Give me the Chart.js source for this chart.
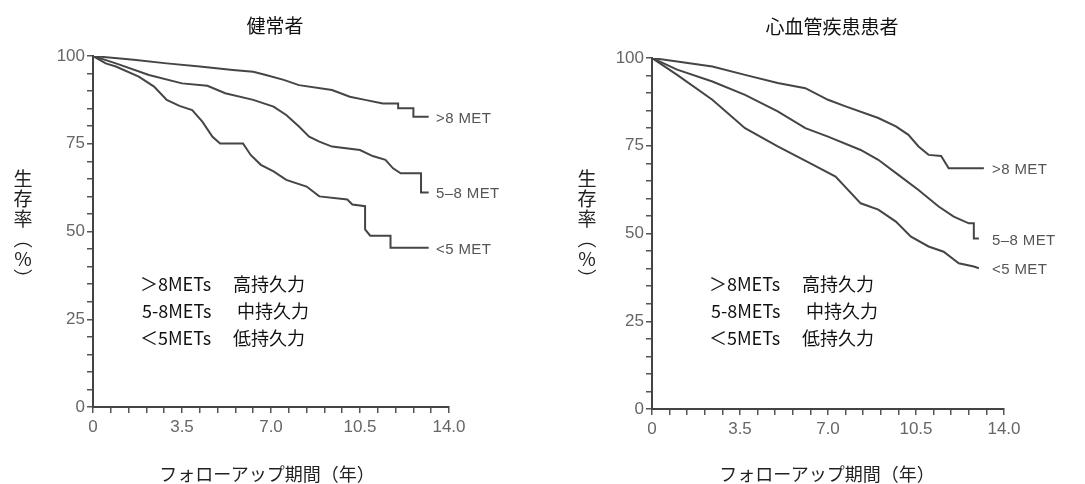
<!DOCTYPE html>
<html>
<head>
<meta charset="utf-8">
<script src="https://cdn.jsdelivr.net/npm/chart.js@4"></script>
<style>
  body { margin: 0; background: #fff; }
  #wrap { position: relative; width: 1085px; height: 484px; overflow: hidden; font-family: "Noto Sans CJK JP", sans-serif; }
  .cv { position: absolute; top: 0; width: 540px; height: 484px; }
  .txt { position: absolute; white-space: nowrap; line-height: 1; }
  .title { font-size: 19px; color: #111; transform: translate(-50%, -50%); }
  .ylab { font-size: 19px; color: #222; text-align: center; width: 24px; transform: translateX(-50%); }
  .ylab span { display: block; height: 20px; line-height: 20px; }
  .xlab { font-size: 18px; color: #222; transform: translate(-50%, -50%); }
  .note { font-size: 18px; color: #111; transform: translateY(-50%); }
  .end { font-family: "Liberation Sans", Arial, sans-serif; font-size: 15px; letter-spacing: 0.4px; color: #555; transform: translateY(-50%); }
</style>
</head>
<body>
<div id="wrap">
  <canvas id="left" class="cv" width="540" height="484" style="left:0"></canvas>
  <canvas id="right" class="cv" width="540" height="484" style="left:545px"></canvas>

  <div class="txt title" style="left:275px;top:24px">健常者</div>
  <div class="txt title" style="left:832px;top:25px">心血管疾患患者</div>

  <div class="txt ylab" style="left:23px;top:168px"><span>生</span><span>存</span><span>率</span><span>︵</span><span>%</span><span>︶</span></div>
  <div class="txt ylab" style="left:587px;top:168px"><span>生</span><span>存</span><span>率</span><span>︵</span><span>%</span><span>︶</span></div>

  <div class="txt xlab" style="left:267px;top:473px">フォローアップ期間（年）</div>
  <div class="txt xlab" style="left:827px;top:473px">フォローアップ期間（年）</div>

  <div class="txt note" style="left:140px;top:283px">＞8METs</div>
  <div class="txt note" style="left:233px;top:283px">高持久力</div>
  <div class="txt note" style="left:142px;top:310px">5-8METs</div>
  <div class="txt note" style="left:237px;top:310px">中持久力</div>
  <div class="txt note" style="left:140px;top:337px">＜5METs</div>
  <div class="txt note" style="left:233px;top:337px">低持久力</div>

  <div class="txt note" style="left:709px;top:283px">＞8METs</div>
  <div class="txt note" style="left:802px;top:283px">高持久力</div>
  <div class="txt note" style="left:711px;top:310px">5-8METs</div>
  <div class="txt note" style="left:806px;top:310px">中持久力</div>
  <div class="txt note" style="left:709px;top:337px">＜5METs</div>
  <div class="txt note" style="left:802px;top:337px">低持久力</div>

  <div class="txt end" style="left:436px;top:117px">&gt;8 MET</div>
  <div class="txt end" style="left:436px;top:192px">5–8 MET</div>
  <div class="txt end" style="left:436px;top:248px">&lt;5 MET</div>

  <div class="txt end" style="left:992px;top:168px">&gt;8 MET</div>
  <div class="txt end" style="left:992px;top:239px">5–8 MET</div>
  <div class="txt end" style="left:992px;top:268px">&lt;5 MET</div>
</div>

<script>
// tick labels
const xTickLabels = ["0", "3.5", "7.0", "10.5", "14.0"];
const yTickLabels = ["0", "25", "50", "75", "100"];

// 健常者 (healthy)
const healthyHighYears = [0, 1.6, 2.9, 4.2, 5.5, 6.3, 6.8, 7.5, 8.1, 9.4, 10.1, 10.7, 11.4, 12.0, 12.0, 12.6, 12.6, 13.2];
const healthyHighSurv  = [100, 98.9, 97.9, 97.0, 96.0, 95.5, 94.6, 93.2, 91.7, 90.3, 88.4, 87.5, 86.5, 86.5, 85.1, 85.1, 82.7, 82.7];

const healthyMidYears = [0, 0.9, 2.2, 3.5, 4.5, 5.2, 6.3, 7.1, 7.6, 8.1, 8.5, 8.9, 9.4, 10.5, 11.0, 11.5, 11.8, 12.1, 12.9, 12.9, 13.2];
const healthyMidSurv  = [100, 97.9, 94.6, 92.2, 91.5, 89.4, 87.5, 85.6, 83.2, 79.9, 77.0, 75.6, 74.2, 73.2, 71.5, 70.4, 68.0, 66.6, 66.6, 61.1, 61.1];

const healthyLowYears = [0, 0.5, 0.9, 1.8, 2.4, 2.9, 3.4, 3.9, 4.3, 4.7, 5.0, 5.9, 6.2, 6.6, 7.1, 7.6, 8.4, 8.9, 10.0, 10.2, 10.7, 10.7, 10.9, 11.7, 11.7, 13.2];
const healthyLowSurv  = [100, 97.9, 97.0, 94.1, 91.3, 87.5, 85.8, 84.6, 81.3, 77.0, 75.1, 75.1, 71.8, 69.0, 67.1, 64.7, 62.8, 60.0, 59.1, 57.7, 57.2, 50.6, 48.8, 48.8, 45.4, 45.4];

// 心血管疾患患者 (cardiovascular patients)
const cvdHighYears = [0, 1.0, 2.4, 3.7, 5.0, 6.1, 7.0, 7.7, 9.0, 9.7, 10.2, 10.6, 11.0, 11.5, 11.8, 13.2];
const cvdHighSurv  = [100, 99.0, 97.6, 95.2, 92.9, 91.4, 88.1, 86.2, 82.9, 80.5, 78.1, 74.8, 72.4, 72.1, 68.6, 68.6];

const cvdMidYears = [0, 1.0, 2.4, 3.7, 5.0, 6.1, 7.0, 8.3, 9.0, 9.8, 10.6, 11.4, 12.0, 12.6, 12.8, 12.8, 13.0];
const cvdMidSurv  = [100, 96.7, 93.3, 89.5, 84.8, 80.0, 77.6, 73.8, 71.0, 66.7, 62.4, 57.7, 54.8, 52.9, 52.9, 48.6, 48.6];

const cvdLowYears = [0, 1.0, 2.4, 3.7, 5.0, 6.3, 7.3, 8.3, 9.0, 9.7, 10.3, 11.0, 11.6, 12.2, 12.8, 13.0];
const cvdLowSurv  = [100, 95.2, 88.1, 80.0, 74.8, 70.0, 66.2, 58.6, 56.8, 53.4, 49.1, 46.3, 44.8, 41.5, 40.6, 40.1];

function toPoints(xs, ys) {
    return xs.map((x, i) => ({ x: x, y: ys[i] }));
}

function lineSet(xs, ys) {
    return {
        data: toPoints(xs, ys),
        borderColor: "#454545",
        borderWidth: 2,
        pointRadius: 0,
        tension: 0,
        fill: false,
    };
}

// only label the major positions, the rest stay as minor tick marks
function isMajor(value, step) {
    const r = value / step;
    return Math.abs(r - Math.round(r)) < 1e-6;
}

function makeChart(id, datasets, padding) {
    const ctx = document.getElementById(id).getContext("2d");
    return new Chart(ctx, {
        type: "line",
        data: { datasets: datasets },
        options: {
            responsive: false,
            animation: false,
            layout: { padding: padding },
            plugins: { legend: { display: false }, tooltip: { enabled: false } },
            scales: {
                x: {
                    type: "linear",
                    min: 0,
                    max: 14,
                    afterFit: (scale) => { scale.height = 40; },
                    ticks: {
                        stepSize: 0.7,
                        autoSkip: false,
                        maxRotation: 0,
                        padding: 4,
                        color: "#666",
                        font: { family: "Liberation Sans", size: 17 },
                        callback: (v) => {
                            if (!isMajor(v, 3.5)) return "";
                            return xTickLabels[Math.round(v / 3.5)];
                        },
                    },
                    grid: { drawOnChartArea: false, tickLength: 6, color: "#555", lineWidth: 1.5 },
                    border: { color: "#444", width: 2 },
                },
                y: {
                    min: 0,
                    max: 100,
                    afterFit: (scale) => { scale.width = 40; },
                    ticks: {
                        stepSize: 5,
                        autoSkip: false,
                        padding: 2,
                        color: "#666",
                        font: { family: "Liberation Sans", size: 17 },
                        callback: (v) => {
                            if (!isMajor(v, 25)) return "";
                            return yTickLabels[Math.round(v / 25)];
                        },
                    },
                    grid: { drawOnChartArea: false, tickLength: 6, color: "#555", lineWidth: 1.5 },
                    border: { color: "#444", width: 2 },
                },
            },
        },
    });
}

makeChart("left", [
    lineSet(healthyHighYears, healthyHighSurv),
    lineSet(healthyMidYears, healthyMidSurv),
    lineSet(healthyLowYears, healthyLowSurv),
], { left: 53, right: 91, top: 56, bottom: 37 });

makeChart("right", [
    lineSet(cvdHighYears, cvdHighSurv),
    lineSet(cvdMidYears, cvdMidSurv),
    lineSet(cvdLowYears, cvdLowSurv),
], { left: 67, right: 81, top: 58, bottom: 35 });
</script>
</body>
</html>
